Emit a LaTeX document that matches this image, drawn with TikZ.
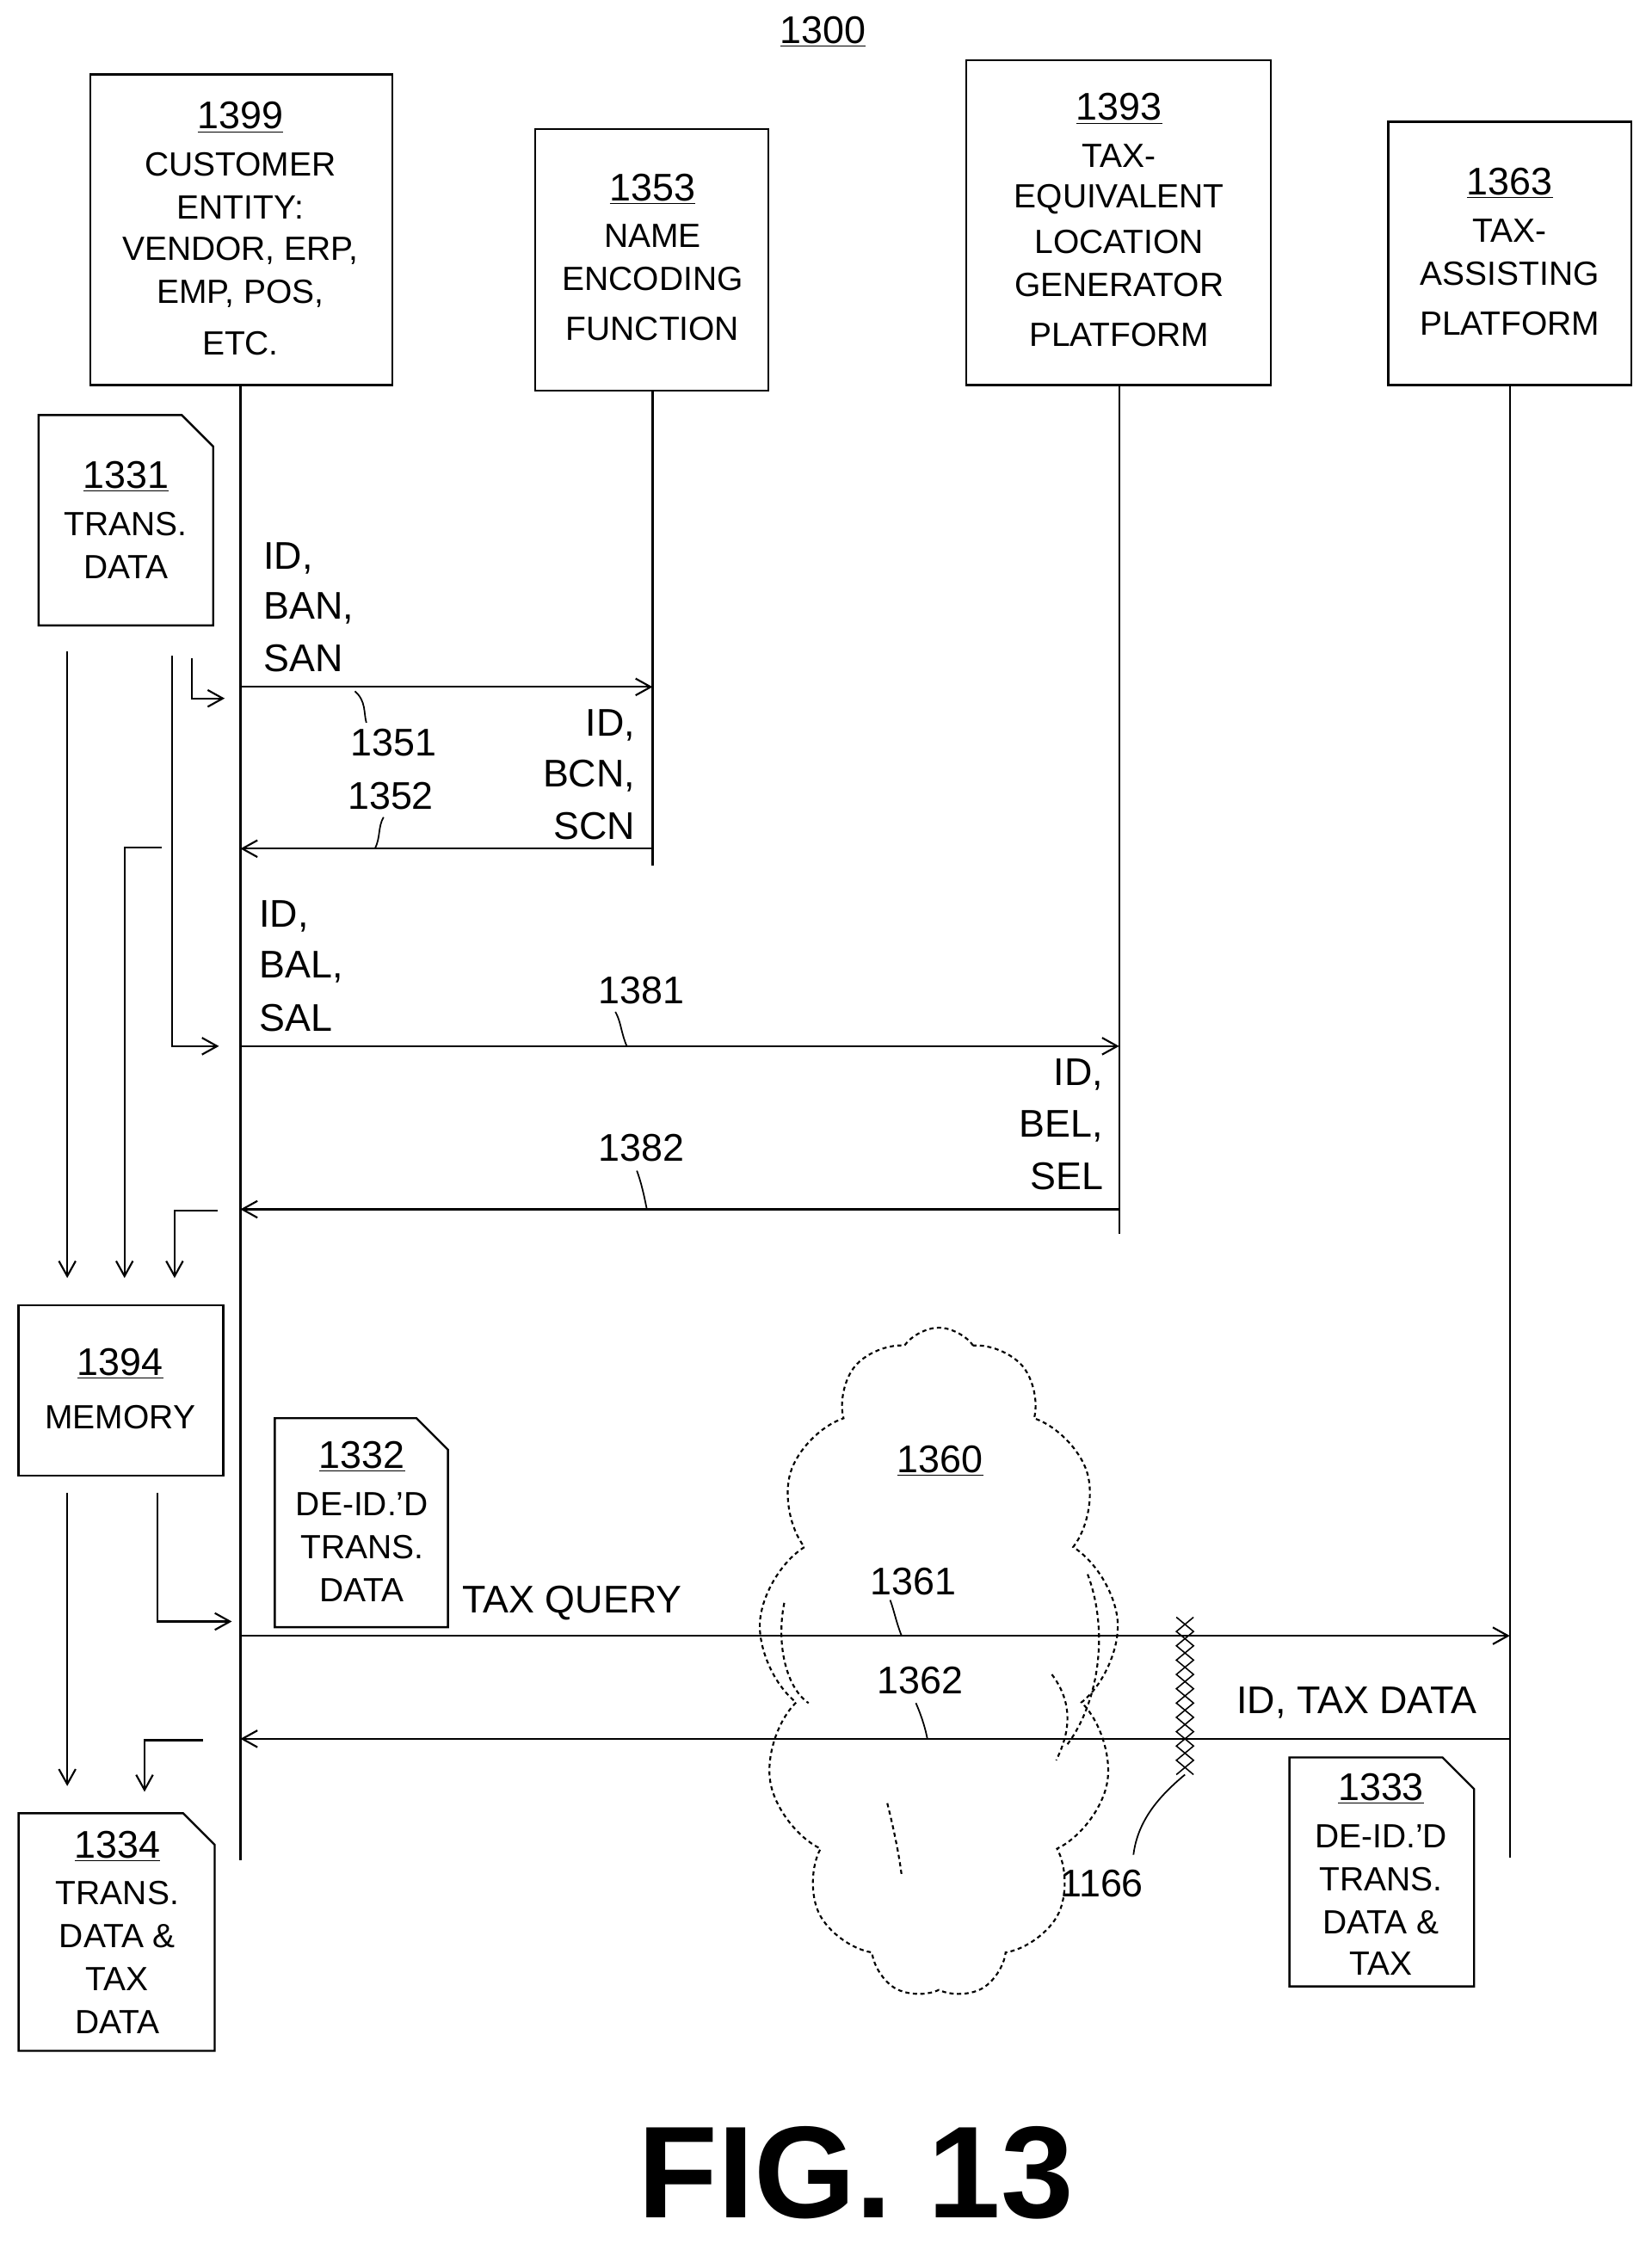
\documentclass[tikz,border=0pt]{standalone}
\usepackage{fontspec}
\setmainfont{Liberation Sans}
\usetikzlibrary{arrows.meta,shapes.symbols}
\begin{document}
\begin{tikzpicture}[x=0.3mm,y=-0.3mm,
 box/.style={draw,line width=1.2pt},
 ln/.style={line width=1.1pt},
 ar/.style={line width=1.1pt,-{Straight Barb[length=9pt,width=10pt]}},
 t/.style={font=\fontsize{20}{23}\selectfont,inner sep=0pt},
 u/.style={font=\fontsize{23}{26}\selectfont,inner sep=0pt},
 lb/.style={font=\fontsize{23}{27}\selectfont,inner sep=0pt},
 ld/.style={line width=0.9pt},
 cl/.style={line width=1.1pt,dash pattern=on 2.5pt off 2pt}]
\useasboundingbox (0,0) rectangle (1154,1568);
\newcommand{\docshape}[4]{\draw[box] (#1,#2) -- ({#3-22},#2) -- (#3,{#2+22}) -- (#3,#4) -- (#1,#4) -- cycle;}
\node[lb] (title) at (575,22) {\underline{1300}};
% boxes
\draw[box] (63,52) rectangle (274,269);
\node[u] (n1399) at (168,82) {\underline{1399}};
\node[t] at (168,115) {CUSTOMER};
\node[t] at (168,145) {ENTITY:};
\node[t] at (168,175) {VENDOR, ERP,};
\node[t] at (168,205) {EMP, POS,};
\node[t] at (168,240) {ETC.};
\draw[box] (374,90) rectangle (537,273);
\node[u] at (456,132) {\underline{1353}};
\node[t] at (456,165) {NAME};
\node[t] at (456,195) {ENCODING};
\node[t] at (456,230) {FUNCTION};
\draw[box] (675,42) rectangle (888,269);
\node[u] at (782,76) {\underline{1393}};
\node[t] at (782,109) {TAX-};
\node[t] at (782,139) {EQUIVALENT};
\node[t] at (782,169) {LOCATION};
\node[t] at (782,199) {GENERATOR};
\node[t] at (782,234) {PLATFORM};
\draw[box] (970,85) rectangle (1140,269);
\node[u] at (1055,128) {\underline{1363}};
\node[t] at (1055,161) {TAX-};
\node[t] at (1055,191) {ASSISTING};
\node[t] at (1055,226) {PLATFORM};
% lifelines
\draw[ln] (168,269) -- (168,1300);
\draw[ln] (456,273) -- (456,605);
\draw[ln] (782,269) -- (782,862);
\draw[ln] (1055,269) -- (1055,1298);
% doc 1331
\docshape{27}{290}{149}{437}
\node[u] at (88,333) {\underline{1331}};
\node[t] at (88,366) {TRANS.};
\node[t] at (88,396) {DATA};
\draw[ar] (47,455) -- (47,893);
\draw[ar] (120,458) -- (120,731) -- (153,731);
\draw[ar] (134,460) -- (134,488) -- (157,488);
\draw[ar] (113,592) -- (87,592) -- (87,893);
\draw[ar] (152,846) -- (122,846) -- (122,893);
% messages
\draw[ar] (168,480) -- (456,480);
\node[lb,anchor=west] at (184,390) {ID,};
\node[lb,anchor=west] at (184,425) {BAN,};
\node[lb,anchor=west] at (184,460) {SAN};
\node[lb] at (275,519) {1351};
\draw[ld] (248,483) .. controls (256,490) and (254,498) .. (256,505);
\draw[ar] (456,593) -- (168,593);
\node[lb,anchor=east] at (444,507) {ID,};
\node[lb,anchor=east] at (444,542) {BCN,};
\node[lb,anchor=east] at (444,577) {SCN};
\node[lb] at (273,556) {1352};
\draw[ld] (262,593) .. controls (266,585) and (264,578) .. (268,571);
\draw[ar] (168,731) -- (782,731);
\node[lb,anchor=west] at (181,640) {ID,};
\node[lb,anchor=west] at (181,676) {BAL,};
\node[lb,anchor=west] at (181,711) {SAL};
\node[lb] at (448,692) {1381};
\draw[ld] (438,731) .. controls (434,722) and (434,714) .. (430,707);
\draw[ar] (782,845) -- (168,845);
\node[lb,anchor=east] at (771,751) {ID,};
\node[lb,anchor=east] at (771,787) {BEL,};
\node[lb,anchor=east] at (771,822) {SEL};
\node[lb] at (448,802) {1382};
\draw[ld] (452,845) .. controls (450,835) and (448,826) .. (445,818);
% memory
\draw[box] (13,912) rectangle (156,1031);
\node[u] at (84,953) {\underline{1394}};
\node[t] at (84,990) {MEMORY};
\draw[ar] (47,1043) -- (47,1248);
\draw[ar] (110,1043) -- (110,1133) -- (162,1133);
\draw[ar] (142,1216) -- (101,1216) -- (101,1252);
% doc 1332
\docshape{192}{991}{313}{1137}
\node[u] at (253,1018) {\underline{1332}};
\node[t] at (253,1051) {DE-ID.'D};
\node[t] at (253,1081) {TRANS.};
\node[t] at (253,1111) {DATA};
% cloud
\node[cloud,draw,cl,cloud puffs=13,cloud puff arc=110,aspect=0.55,minimum width=215,minimum height=400] (cloud) at (656,1162) {};
\draw[cl] (760,1100) .. controls (775,1140) and (768,1190) .. (745,1220);
\draw[cl] (548,1120) .. controls (542,1150) and (550,1180) .. (565,1190);
\draw[cl] (735,1170) .. controls (750,1190) and (748,1210) .. (738,1230);
\draw[cl] (620,1260) .. controls (625,1280) and (628,1295) .. (630,1310);
\node[lb] at (657,1021) {\underline{1360}};
\node[lb,anchor=west] (tq) at (323,1120) {TAX QUERY};
\draw[ar] (168,1143) -- (1055,1143);
\node[lb] at (638,1105) {1361};
\draw[ld] (630,1143) .. controls (626,1133) and (625,1126) .. (622,1118);
\draw[ar] (1055,1215) -- (168,1215);
\node[lb] at (948,1190) {ID, TAX DATA};
\node[lb] at (643,1174) {1362};
\draw[ld] (648,1215) .. controls (646,1205) and (643,1197) .. (640,1190);
% hatch 1166
\draw[line width=0.8pt] (834,1130) \foreach \i in {1,...,11} { -- ({(mod(\i,2)==0 ? 834 : 822)},{1130+\i*10}) };
\draw[line width=0.8pt] (822,1130) \foreach \i in {1,...,11} { -- ({(mod(\i,2)==0 ? 822 : 834)},{1130+\i*10}) };
\node[lb] at (770,1316) {1166};
\draw[ld] (828,1240) .. controls (810,1255) and (795,1272) .. (792,1296);
% doc 1333
\docshape{901}{1228}{1030}{1388}
\node[u] at (965,1250) {\underline{1333}};
\node[t] at (965,1283) {DE-ID.'D};
\node[t] at (965,1313) {TRANS.};
\node[t] at (965,1343) {DATA \&};
\node[t] at (965,1372) {TAX};
% doc 1334
\docshape{13}{1267}{150}{1433}
\node[u] at (82,1290) {\underline{1334}};
\node[t] at (82,1323) {TRANS.};
\node[t] at (82,1353) {DATA \&};
\node[t] at (82,1383) {TAX};
\node[t] at (82,1413) {DATA};
\node[font=\fontsize{78}{86}\selectfont\bfseries,inner sep=0pt] at (598,1518) {FIG. 13};
\end{tikzpicture}
\end{document}
